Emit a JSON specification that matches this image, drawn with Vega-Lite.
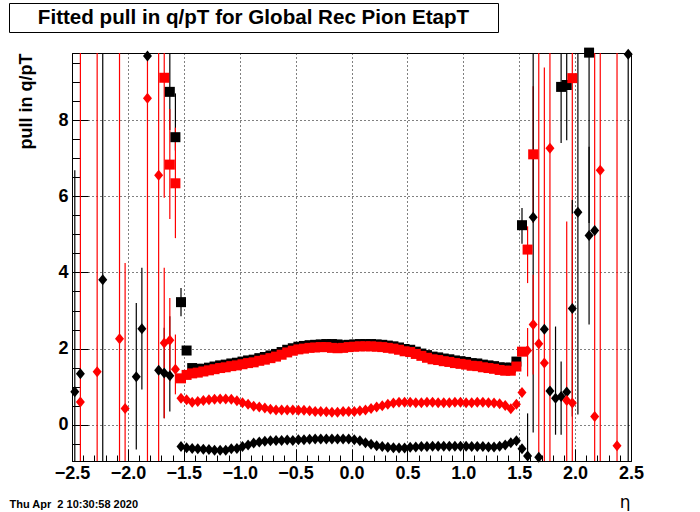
{
  "$schema": "https://vega.github.io/schema/vega-lite/v6.json",
  "padding": {"left": 8, "top": 3, "right": 0, "bottom": 0},
  "background": "white",
  "config": {"view": {"stroke": "black", "strokeWidth": 1}, "font": "Liberation Sans"},
  "datasets": {
    "d": [
      {"e":-1.625,"v":8.74,"lo":7.74,"hi":11,"s":"A"},
      {"e":-1.575,"v":7.55,"lo":7.2,"hi":8.7,"s":"A"},
      {"e":-1.525,"v":3.22,"lo":2.85,"hi":3.59,"s":"A"},
      {"e":-1.475,"v":1.95,"s":"A"},
      {"e":-1.425,"v":1.49,"s":"A"},
      {"e":-1.375,"v":1.47,"s":"A"},
      {"e":-1.325,"v":1.47,"s":"A"},
      {"e":-1.275,"v":1.50,"s":"A"},
      {"e":-1.225,"v":1.53,"s":"A"},
      {"e":-1.175,"v":1.56,"s":"A"},
      {"e":-1.125,"v":1.58,"s":"A"},
      {"e":-1.075,"v":1.61,"s":"A"},
      {"e":-1.025,"v":1.63,"s":"A"},
      {"e":-0.975,"v":1.66,"s":"A"},
      {"e":-0.925,"v":1.69,"s":"A"},
      {"e":-0.875,"v":1.71,"s":"A"},
      {"e":-0.825,"v":1.75,"s":"A"},
      {"e":-0.775,"v":1.78,"s":"A"},
      {"e":-0.725,"v":1.82,"s":"A"},
      {"e":-0.675,"v":1.86,"s":"A"},
      {"e":-0.625,"v":1.91,"s":"A"},
      {"e":-0.575,"v":1.97,"s":"A"},
      {"e":-0.525,"v":2.01,"s":"A"},
      {"e":-0.475,"v":2.05,"s":"A"},
      {"e":-0.425,"v":2.07,"s":"A"},
      {"e":-0.375,"v":2.09,"s":"A"},
      {"e":-0.325,"v":2.10,"s":"A"},
      {"e":-0.275,"v":2.11,"s":"A"},
      {"e":-0.225,"v":2.12,"s":"A"},
      {"e":-0.175,"v":2.12,"s":"A"},
      {"e":-0.125,"v":2.11,"s":"A"},
      {"e":-0.075,"v":2.09,"s":"A"},
      {"e":-0.025,"v":2.10,"s":"A"},
      {"e":0.025,"v":2.11,"s":"A"},
      {"e":0.075,"v":2.12,"s":"A"},
      {"e":0.125,"v":2.12,"s":"A"},
      {"e":0.175,"v":2.12,"s":"A"},
      {"e":0.225,"v":2.11,"s":"A"},
      {"e":0.275,"v":2.10,"s":"A"},
      {"e":0.325,"v":2.08,"s":"A"},
      {"e":0.375,"v":2.06,"s":"A"},
      {"e":0.425,"v":2.03,"s":"A"},
      {"e":0.475,"v":1.99,"s":"A"},
      {"e":0.525,"v":1.97,"s":"A"},
      {"e":0.575,"v":1.92,"s":"A"},
      {"e":0.625,"v":1.87,"s":"A"},
      {"e":0.675,"v":1.83,"s":"A"},
      {"e":0.725,"v":1.79,"s":"A"},
      {"e":0.775,"v":1.77,"s":"A"},
      {"e":0.825,"v":1.74,"s":"A"},
      {"e":0.875,"v":1.72,"s":"A"},
      {"e":0.925,"v":1.69,"s":"A"},
      {"e":0.975,"v":1.67,"s":"A"},
      {"e":1.025,"v":1.65,"s":"A"},
      {"e":1.075,"v":1.62,"s":"A"},
      {"e":1.125,"v":1.61,"s":"A"},
      {"e":1.175,"v":1.58,"s":"A"},
      {"e":1.225,"v":1.56,"s":"A"},
      {"e":1.275,"v":1.54,"s":"A"},
      {"e":1.325,"v":1.51,"s":"A"},
      {"e":1.375,"v":1.50,"s":"A"},
      {"e":1.425,"v":1.50,"s":"A"},
      {"e":1.475,"v":1.66,"s":"A"},
      {"e":1.525,"v":5.24,"lo":4.75,"hi":5.69,"s":"A"},
      {"e":1.875,"v":8.87,"lo":7.4,"hi":10.3,"s":"A"},
      {"e":1.925,"v":8.92,"lo":7.47,"hi":10.4,"s":"A"},
      {"e":2.125,"v":9.77,"lo":5.3,"hi":14,"s":"A"},

      {"e":-1.675,"v":9.11,"lo":5.96,"hi":12.3,"s":"B"},
      {"e":-1.625,"v":6.83,"lo":5.4,"hi":8.29,"s":"B"},
      {"e":-1.575,"v":6.34,"lo":4.9,"hi":7.8,"s":"B"},
      {"e":-1.525,"v":1.22,"s":"B"},
      {"e":-1.475,"v":1.31,"s":"B"},
      {"e":-1.425,"v":1.35,"s":"B"},
      {"e":-1.375,"v":1.37,"s":"B"},
      {"e":-1.325,"v":1.40,"s":"B"},
      {"e":-1.275,"v":1.43,"s":"B"},
      {"e":-1.225,"v":1.46,"s":"B"},
      {"e":-1.175,"v":1.49,"s":"B"},
      {"e":-1.125,"v":1.51,"s":"B"},
      {"e":-1.075,"v":1.54,"s":"B"},
      {"e":-1.025,"v":1.56,"s":"B"},
      {"e":-0.975,"v":1.59,"s":"B"},
      {"e":-0.925,"v":1.62,"s":"B"},
      {"e":-0.875,"v":1.64,"s":"B"},
      {"e":-0.825,"v":1.68,"s":"B"},
      {"e":-0.775,"v":1.71,"s":"B"},
      {"e":-0.725,"v":1.75,"s":"B"},
      {"e":-0.675,"v":1.79,"s":"B"},
      {"e":-0.625,"v":1.84,"s":"B"},
      {"e":-0.575,"v":1.90,"s":"B"},
      {"e":-0.525,"v":1.945,"s":"B"},
      {"e":-0.475,"v":1.98,"s":"B"},
      {"e":-0.425,"v":2.00,"s":"B"},
      {"e":-0.375,"v":2.02,"s":"B"},
      {"e":-0.325,"v":2.03,"s":"B"},
      {"e":-0.275,"v":2.04,"s":"B"},
      {"e":-0.225,"v":2.04,"s":"B"},
      {"e":-0.175,"v":2.02,"s":"B"},
      {"e":-0.125,"v":2.01,"s":"B"},
      {"e":-0.075,"v":2.02,"s":"B"},
      {"e":-0.025,"v":2.04,"s":"B"},
      {"e":0.025,"v":2.05,"s":"B"},
      {"e":0.075,"v":2.06,"s":"B"},
      {"e":0.125,"v":2.06,"s":"B"},
      {"e":0.175,"v":2.06,"s":"B"},
      {"e":0.225,"v":2.05,"s":"B"},
      {"e":0.275,"v":2.04,"s":"B"},
      {"e":0.325,"v":2.02,"s":"B"},
      {"e":0.375,"v":2.00,"s":"B"},
      {"e":0.425,"v":1.97,"s":"B"},
      {"e":0.475,"v":1.93,"s":"B"},
      {"e":0.525,"v":1.91,"s":"B"},
      {"e":0.575,"v":1.86,"s":"B"},
      {"e":0.625,"v":1.81,"s":"B"},
      {"e":0.675,"v":1.76,"s":"B"},
      {"e":0.725,"v":1.72,"s":"B"},
      {"e":0.775,"v":1.70,"s":"B"},
      {"e":0.825,"v":1.67,"s":"B"},
      {"e":0.875,"v":1.65,"s":"B"},
      {"e":0.925,"v":1.62,"s":"B"},
      {"e":0.975,"v":1.60,"s":"B"},
      {"e":1.025,"v":1.58,"s":"B"},
      {"e":1.075,"v":1.55,"s":"B"},
      {"e":1.125,"v":1.54,"s":"B"},
      {"e":1.175,"v":1.51,"s":"B"},
      {"e":1.225,"v":1.49,"s":"B"},
      {"e":1.275,"v":1.47,"s":"B"},
      {"e":1.325,"v":1.44,"s":"B"},
      {"e":1.375,"v":1.42,"s":"B"},
      {"e":1.425,"v":1.42,"s":"B"},
      {"e":1.475,"v":1.53,"s":"B"},
      {"e":1.525,"v":1.92,"s":"B"},
      {"e":1.575,"v":4.6,"lo":3.72,"hi":5.21,"s":"B"},
      {"e":1.625,"v":7.1,"lo":5.3,"hi":8.89,"s":"B"},
      {"e":1.975,"v":9.1,"lo":5.54,"hi":12.7,"s":"B"},

      {"e":-2.475,"v":0.87,"lo":-4.9,"hi":6.68,"s":"C"},
      {"e":-2.425,"v":1.34,"s":"C"},
      {"e":-2.225,"v":3.81,"lo":-10,"hi":20,"s":"C"},
      {"e":-1.925,"v":1.26,"lo":-0.65,"hi":3.2,"s":"C"},
      {"e":-1.875,"v":2.52,"lo":0.93,"hi":4.12,"s":"C"},
      {"e":-1.825,"v":9.68,"s":"C"},
      {"e":-1.725,"v":1.43,"s":"C"},
      {"e":-1.675,"v":1.36,"lo":0.17,"hi":2.55,"s":"C"},
      {"e":-1.625,"v":1.29,"lo":0.35,"hi":2.85,"s":"C"},
      {"e":-1.525,"v":-0.57,"s":"C"},
      {"e":-1.475,"v":-0.60,"s":"C"},
      {"e":-1.425,"v":-0.62,"s":"C"},
      {"e":-1.375,"v":-0.63,"s":"C"},
      {"e":-1.325,"v":-0.64,"s":"C"},
      {"e":-1.275,"v":-0.65,"s":"C"},
      {"e":-1.225,"v":-0.67,"s":"C"},
      {"e":-1.175,"v":-0.67,"s":"C"},
      {"e":-1.125,"v":-0.67,"s":"C"},
      {"e":-1.075,"v":-0.63,"s":"C"},
      {"e":-1.025,"v":-0.62,"s":"C"},
      {"e":-0.975,"v":-0.57,"s":"C"},
      {"e":-0.925,"v":-0.53,"s":"C"},
      {"e":-0.875,"v":-0.48,"s":"C"},
      {"e":-0.825,"v":-0.45,"s":"C"},
      {"e":-0.775,"v":-0.43,"s":"C"},
      {"e":-0.725,"v":-0.42,"s":"C"},
      {"e":-0.675,"v":-0.41,"s":"C"},
      {"e":-0.625,"v":-0.41,"s":"C"},
      {"e":-0.575,"v":-0.40,"s":"C"},
      {"e":-0.525,"v":-0.41,"s":"C"},
      {"e":-0.475,"v":-0.39,"s":"C"},
      {"e":-0.425,"v":-0.39,"s":"C"},
      {"e":-0.375,"v":-0.38,"s":"C"},
      {"e":-0.325,"v":-0.37,"s":"C"},
      {"e":-0.275,"v":-0.37,"s":"C"},
      {"e":-0.225,"v":-0.37,"s":"C"},
      {"e":-0.175,"v":-0.37,"s":"C"},
      {"e":-0.125,"v":-0.37,"s":"C"},
      {"e":-0.075,"v":-0.37,"s":"C"},
      {"e":-0.025,"v":-0.37,"s":"C"},
      {"e":0.025,"v":-0.39,"s":"C"},
      {"e":0.075,"v":-0.42,"s":"C"},
      {"e":0.125,"v":-0.47,"s":"C"},
      {"e":0.175,"v":-0.51,"s":"C"},
      {"e":0.225,"v":-0.55,"s":"C"},
      {"e":0.275,"v":-0.57,"s":"C"},
      {"e":0.325,"v":-0.59,"s":"C"},
      {"e":0.375,"v":-0.60,"s":"C"},
      {"e":0.425,"v":-0.61,"s":"C"},
      {"e":0.475,"v":-0.61,"s":"C"},
      {"e":0.525,"v":-0.59,"s":"C"},
      {"e":0.575,"v":-0.58,"s":"C"},
      {"e":0.625,"v":-0.57,"s":"C"},
      {"e":0.675,"v":-0.57,"s":"C"},
      {"e":0.725,"v":-0.56,"s":"C"},
      {"e":0.775,"v":-0.56,"s":"C"},
      {"e":0.825,"v":-0.56,"s":"C"},
      {"e":0.875,"v":-0.56,"s":"C"},
      {"e":0.925,"v":-0.56,"s":"C"},
      {"e":0.975,"v":-0.56,"s":"C"},
      {"e":1.025,"v":-0.56,"s":"C"},
      {"e":1.075,"v":-0.57,"s":"C"},
      {"e":1.125,"v":-0.57,"s":"C"},
      {"e":1.175,"v":-0.57,"s":"C"},
      {"e":1.225,"v":-0.58,"s":"C"},
      {"e":1.275,"v":-0.58,"s":"C"},
      {"e":1.325,"v":-0.56,"s":"C"},
      {"e":1.375,"v":-0.53,"s":"C"},
      {"e":1.425,"v":-0.47,"s":"C"},
      {"e":1.475,"v":-0.42,"s":"C"},
      {"e":1.525,"v":-0.63,"s":"C"},
      {"e":1.575,"v":-0.82,"lo":-1.94,"hi":0.3,"s":"C"},
      {"e":1.625,"v":5.45,"lo":-0.2,"hi":11.1,"s":"C"},
      {"e":1.675,"v":-0.85,"s":"C"},
      {"e":1.725,"v":2.51,"s":"C"},
      {"e":1.775,"v":0.89,"s":"C"},
      {"e":1.825,"v":0.7,"lo":-0.26,"hi":2.58,"s":"C"},
      {"e":1.875,"v":0.74,"lo":-0.26,"hi":1.66,"s":"C"},
      {"e":1.925,"v":0.86,"s":"C"},
      {"e":1.975,"v":3.05,"lo":0.22,"hi":5.9,"s":"C"},
      {"e":2.025,"v":5.58,"lo":0.27,"hi":10.9,"s":"C"},
      {"e":2.125,"v":4.97,"lo":2.63,"hi":7.3,"s":"C"},
      {"e":2.175,"v":5.1,"s":"C"},
      {"e":2.475,"v":9.73,"lo":-10,"hi":20,"s":"C"},

      {"e":-2.425,"v":0.6,"lo":-10,"hi":20,"s":"D"},
      {"e":-2.275,"v":1.39,"lo":-10,"hi":20,"s":"D"},
      {"e":-2.075,"v":2.26,"lo":-10,"hi":20,"s":"D"},
      {"e":-2.025,"v":0.43,"lo":-10,"hi":4.25,"s":"D"},
      {"e":-1.825,"v":8.57,"lo":-10,"hi":20,"s":"D"},
      {"e":-1.725,"v":6.55,"lo":-10,"hi":20,"s":"D"},
      {"e":-1.675,"v":2.15,"lo":0.17,"hi":4.12,"s":"D"},
      {"e":-1.625,"v":2.22,"lo":1.14,"hi":3.33,"s":"D"},
      {"e":-1.575,"v":1.46,"lo":0.8,"hi":2.37,"s":"D"},
      {"e":-1.525,"v":0.70,"s":"D"},
      {"e":-1.475,"v":0.66,"s":"D"},
      {"e":-1.425,"v":0.59,"s":"D"},
      {"e":-1.375,"v":0.61,"s":"D"},
      {"e":-1.325,"v":0.64,"s":"D"},
      {"e":-1.275,"v":0.66,"s":"D"},
      {"e":-1.225,"v":0.67,"s":"D"},
      {"e":-1.175,"v":0.68,"s":"D"},
      {"e":-1.125,"v":0.68,"s":"D"},
      {"e":-1.075,"v":0.67,"s":"D"},
      {"e":-1.025,"v":0.63,"s":"D"},
      {"e":-0.975,"v":0.58,"s":"D"},
      {"e":-0.925,"v":0.54,"s":"D"},
      {"e":-0.875,"v":0.49,"s":"D"},
      {"e":-0.825,"v":0.47,"s":"D"},
      {"e":-0.775,"v":0.44,"s":"D"},
      {"e":-0.725,"v":0.41,"s":"D"},
      {"e":-0.675,"v":0.39,"s":"D"},
      {"e":-0.625,"v":0.39,"s":"D"},
      {"e":-0.575,"v":0.39,"s":"D"},
      {"e":-0.525,"v":0.39,"s":"D"},
      {"e":-0.475,"v":0.38,"s":"D"},
      {"e":-0.425,"v":0.38,"s":"D"},
      {"e":-0.375,"v":0.37,"s":"D"},
      {"e":-0.325,"v":0.35,"s":"D"},
      {"e":-0.275,"v":0.35,"s":"D"},
      {"e":-0.225,"v":0.34,"s":"D"},
      {"e":-0.175,"v":0.33,"s":"D"},
      {"e":-0.125,"v":0.33,"s":"D"},
      {"e":-0.075,"v":0.35,"s":"D"},
      {"e":-0.025,"v":0.35,"s":"D"},
      {"e":0.025,"v":0.35,"s":"D"},
      {"e":0.075,"v":0.37,"s":"D"},
      {"e":0.125,"v":0.39,"s":"D"},
      {"e":0.175,"v":0.43,"s":"D"},
      {"e":0.225,"v":0.47,"s":"D"},
      {"e":0.275,"v":0.50,"s":"D"},
      {"e":0.325,"v":0.54,"s":"D"},
      {"e":0.375,"v":0.57,"s":"D"},
      {"e":0.425,"v":0.59,"s":"D"},
      {"e":0.475,"v":0.59,"s":"D"},
      {"e":0.525,"v":0.59,"s":"D"},
      {"e":0.575,"v":0.58,"s":"D"},
      {"e":0.625,"v":0.58,"s":"D"},
      {"e":0.675,"v":0.59,"s":"D"},
      {"e":0.725,"v":0.59,"s":"D"},
      {"e":0.775,"v":0.58,"s":"D"},
      {"e":0.825,"v":0.58,"s":"D"},
      {"e":0.875,"v":0.58,"s":"D"},
      {"e":0.925,"v":0.59,"s":"D"},
      {"e":0.975,"v":0.59,"s":"D"},
      {"e":1.025,"v":0.58,"s":"D"},
      {"e":1.075,"v":0.58,"s":"D"},
      {"e":1.125,"v":0.59,"s":"D"},
      {"e":1.175,"v":0.59,"s":"D"},
      {"e":1.225,"v":0.58,"s":"D"},
      {"e":1.275,"v":0.57,"s":"D"},
      {"e":1.325,"v":0.55,"s":"D"},
      {"e":1.375,"v":0.51,"s":"D"},
      {"e":1.425,"v":0.42,"s":"D"},
      {"e":1.475,"v":0.54,"s":"D"},
      {"e":1.525,"v":0.85,"s":"D"},
      {"e":1.575,"v":1.95,"lo":1.27,"hi":2.54,"s":"D"},
      {"e":1.625,"v":2.63,"lo":1.32,"hi":3.94,"s":"D"},
      {"e":1.675,"v":2.13,"lo":-10,"hi":20,"s":"D"},
      {"e":1.725,"v":1.62,"lo":-10,"hi":9.38,"s":"D"},
      {"e":1.775,"v":7.26,"lo":-10,"hi":20,"s":"D"},
      {"e":1.925,"v":0.64,"lo":-10,"hi":5.34,"s":"D"},
      {"e":1.975,"v":0.57,"lo":-10,"hi":5.54,"s":"D"},
      {"e":2.175,"v":0.22,"lo":-10,"hi":20,"s":"D"},
      {"e":2.225,"v":6.68,"lo":-10,"hi":20,"s":"D"},
      {"e":2.375,"v":-0.55,"lo":-10,"hi":20,"s":"D"}
    ]
  },
  "vconcat": [
    {
      "width": 426,
      "height": 29,
      "view": {"stroke": null},
      "data": {"values": [{"t": "Fitted pull in q/pT for Global Rec Pion EtapT"}]},
      "layer": [
        {
          "mark": {"type": "text", "font": "Liberation Sans", "fontSize": 20.6, "fontWeight": "bold", "color": "black", "baseline": "middle", "align": "center"},
          "encoding": {
            "text": {"field": "t", "type": "nominal"},
            "x": {"field": "t", "type": "nominal", "scale": {"range": [-63, 426]},
              "axis": {"orient": "bottom", "labels": false, "ticks": false, "grid": false, "title": null, "domainColor": "black", "domainWidth": 1}},
            "y": {"field": "t", "type": "nominal",
              "axis": {"orient": "left", "offset": 63, "labels": false, "ticks": false, "grid": false, "title": null, "domainColor": "black", "domainWidth": 1}}
          }
        },
        {
          "mark": {"type": "text", "font": "Liberation Sans", "fontSize": 20.6, "fontWeight": "bold", "color": "black", "baseline": "middle", "align": "center", "opacity": 0},
          "encoding": {
            "text": {"field": "t", "type": "nominal"},
            "x": {"field": "t", "type": "nominal",
              "axis": {"orient": "top", "labels": false, "ticks": false, "grid": false, "title": null, "domainColor": "black", "domainWidth": 1}},
            "y": {"field": "t", "type": "nominal",
              "axis": {"orient": "right", "labels": false, "ticks": false, "grid": false, "title": null, "domainColor": "black", "domainWidth": 1}}
          }
        }
      ],
      "resolve": {"axis": {"x": "independent", "y": "independent"}}
    },
    {
      "width": 559,
      "height": 408,
      "view": {"stroke": "black", "strokeWidth": 1},
      "data": {"name": "d"},
      "layer": [
        {
          "transform": [{"filter": "isValid(datum.lo)"}],
          "mark": {"type": "rule", "clip": true, "strokeWidth": 1.2},
          "encoding": {
            "x": {"field": "e", "type": "quantitative",
              "scale": {"domain": [-2.5, 2.5], "nice": false, "zero": false},
              "axis": {"orient": "bottom", "values": [-2.5,-2,-1.5,-1,-0.5,0,0.5,1,1.5,2,2.5],
                "tickSize": -12, "tickColor": "black", "tickWidth": 1, "domainColor": "black",
                "labelFont": "Liberation Sans", "labelFontWeight": "bold", "labelFontSize": 18, "labelColor": "black",
                "labelPadding": 15, "labelFlush": false, "labelOverlap": false, "labelBaseline": "top",
                "grid": true, "gridColor": "black", "gridDash": [1, 3], "gridWidth": 1,
                "title": "η", "titleFont": "DejaVu Sans", "titleFontWeight": "normal", "titleFontSize": 17, "titleColor": "black",
                "titleAlign": "right", "titleBaseline": "alphabetic", "titleX": 558, "titleY": 46}},
            "y": {"field": "lo", "type": "quantitative",
              "scale": {"domain": [-0.95, 9.76], "nice": false, "zero": false},
              "axis": {"orient": "left", "values": [0, 2, 4, 6, 8],
                "tickSize": -16, "tickColor": "black", "tickWidth": 1, "domainColor": "black",
                "labelFont": "Liberation Sans", "labelFontWeight": "bold", "labelFontSize": 18, "labelColor": "black",
                "labelPadding": 20, "labelOverlap": false, "labelFlush": false,
                "grid": true, "gridColor": "black", "gridDash": [1, 3], "gridWidth": 1,
                "title": "pull in q/pT", "titleFont": "Liberation Sans", "titleFontWeight": "bold", "titleFontSize": 18, "titleColor": "black",
                "titleAngle": -90, "titleAlign": "right", "titleBaseline": "alphabetic", "titleX": -41, "titleY": 0}},
            "y2": {"field": "hi"},
            "color": {"field": "s", "type": "nominal",
              "scale": {"domain": ["A", "B", "C", "D"], "range": ["#000000", "#ff0000", "#000000", "#ff0000"]}, "legend": null}
          }
        },
        {
          "mark": {"type": "point", "filled": true, "opacity": 1, "strokeWidth": 0},
          "encoding": {
            "x": {"field": "e", "type": "quantitative",
              "axis": {"orient": "bottom", "values": [-2.4,-2.3,-2.2,-2.1,-1.9,-1.8,-1.7,-1.6,-1.4,-1.3,-1.2,-1.1,-0.9,-0.8,-0.7,-0.6,-0.4,-0.3,-0.2,-0.1,0.1,0.2,0.3,0.4,0.6,0.7,0.8,0.9,1.1,1.2,1.3,1.4,1.6,1.7,1.8,1.9,2.1,2.2,2.3,2.4],
                "tickSize": -6, "tickColor": "black", "tickWidth": 1, "domain": false, "labels": false, "grid": false,
                "title": "Thu Apr \u00a02 10:30:58 2020", "titleFont": "Liberation Sans", "titleFontWeight": "bold", "titleFontSize": 11, "titleColor": "black",
                "titleAlign": "left", "titleBaseline": "alphabetic", "titleX": -63, "titleY": 46}},
            "y": {"field": "v", "type": "quantitative",
              "axis": {"orient": "left", "values": [-0.5,0.5,1,1.5,2.5,3,3.5,4.5,5,5.5,6.5,7,7.5,8.5,9,9.5],
                "tickSize": -8, "tickColor": "black", "tickWidth": 1, "domain": false, "labels": false, "grid": false, "title": null}},
            "color": {"field": "s", "type": "nominal",
              "scale": {"domain": ["A", "B", "C", "D"], "range": ["#000000", "#ff0000", "#000000", "#ff0000"]}, "legend": null},
            "shape": {"field": "s", "type": "nominal",
              "scale": {"domain": ["A", "B", "C", "D"], "range": ["square", "square", "M0,-1.1L0.9,0L0,1.1L-0.9,0Z", "M0,-1.1L0.9,0L0,1.1L-0.9,0Z"]}, "legend": null},
            "size": {"field": "s", "type": "nominal",
              "scale": {"domain": ["A", "B", "C", "D"], "range": [100, 100, 120, 120]}, "legend": null}
          }
        }
      ],
      "resolve": {"axis": {"x": "independent", "y": "independent"}}
    }
  ],
  "spacing": 15
}
